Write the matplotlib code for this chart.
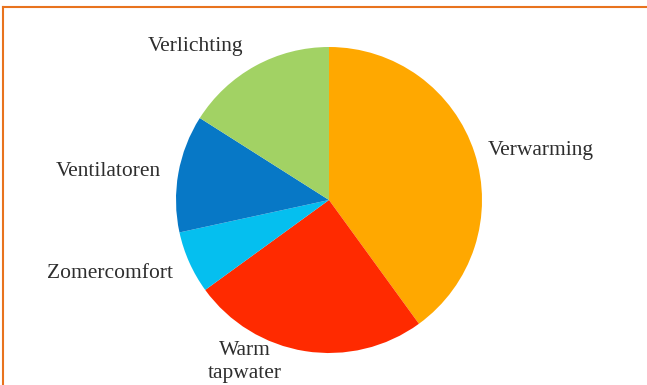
import matplotlib.pyplot as plt
from matplotlib.lines import Line2D

# aandeel energieverbruik (geschat uit de figuur), met de klok mee vanaf boven
labels = ["Verwarming", "Warm\ntapwater", "Zomercomfort", "Ventilatoren", "Verlichting"]
values = [40, 25, 6.6, 12.4, 16]
colors = ["#FFA800", "#FF2A00", "#05BFEF", "#0778C6", "#A2D264"]

# plaats van de labels in pixels (links-boven = 0,0)
label_pos = [(488, 150, "left"), (245, 362, "center"), (110, 273, "center"),
             (108, 172, "center"), (196, 47, "center")]

W, H = 647, 385
fig = plt.figure(figsize=(W / 100, H / 100), dpi=100)
ax = fig.add_axes([0, 0, 1, 1])

ax.pie(values, colors=colors, startangle=90, counterclock=False,
       center=(329, H - 200), radius=153, wedgeprops=dict(linewidth=0),
       frame=True)
ax.set_xlim(0, W)
ax.set_ylim(0, H)
ax.set_aspect("equal")
ax.axis("off")

for lab, (x, y, ha) in zip(labels, label_pos):
    ax.text(x, H - y, lab, ha=ha, va="center", fontsize=15.5,
            family="Liberation Serif", color="#2e2e2e", linespacing=1.25)

# oranje kader boven en links
fig.add_artist(Line2D([3 / W, 1], [1 - 7 / H, 1 - 7 / H], color="#E8731E", lw=1.5,
                      transform=fig.transFigure))
fig.add_artist(Line2D([3 / W, 3 / W], [0, 1 - 7 / H], color="#E8731E", lw=1.5,
                      transform=fig.transFigure))

fig.savefig("out.png", dpi=100)
